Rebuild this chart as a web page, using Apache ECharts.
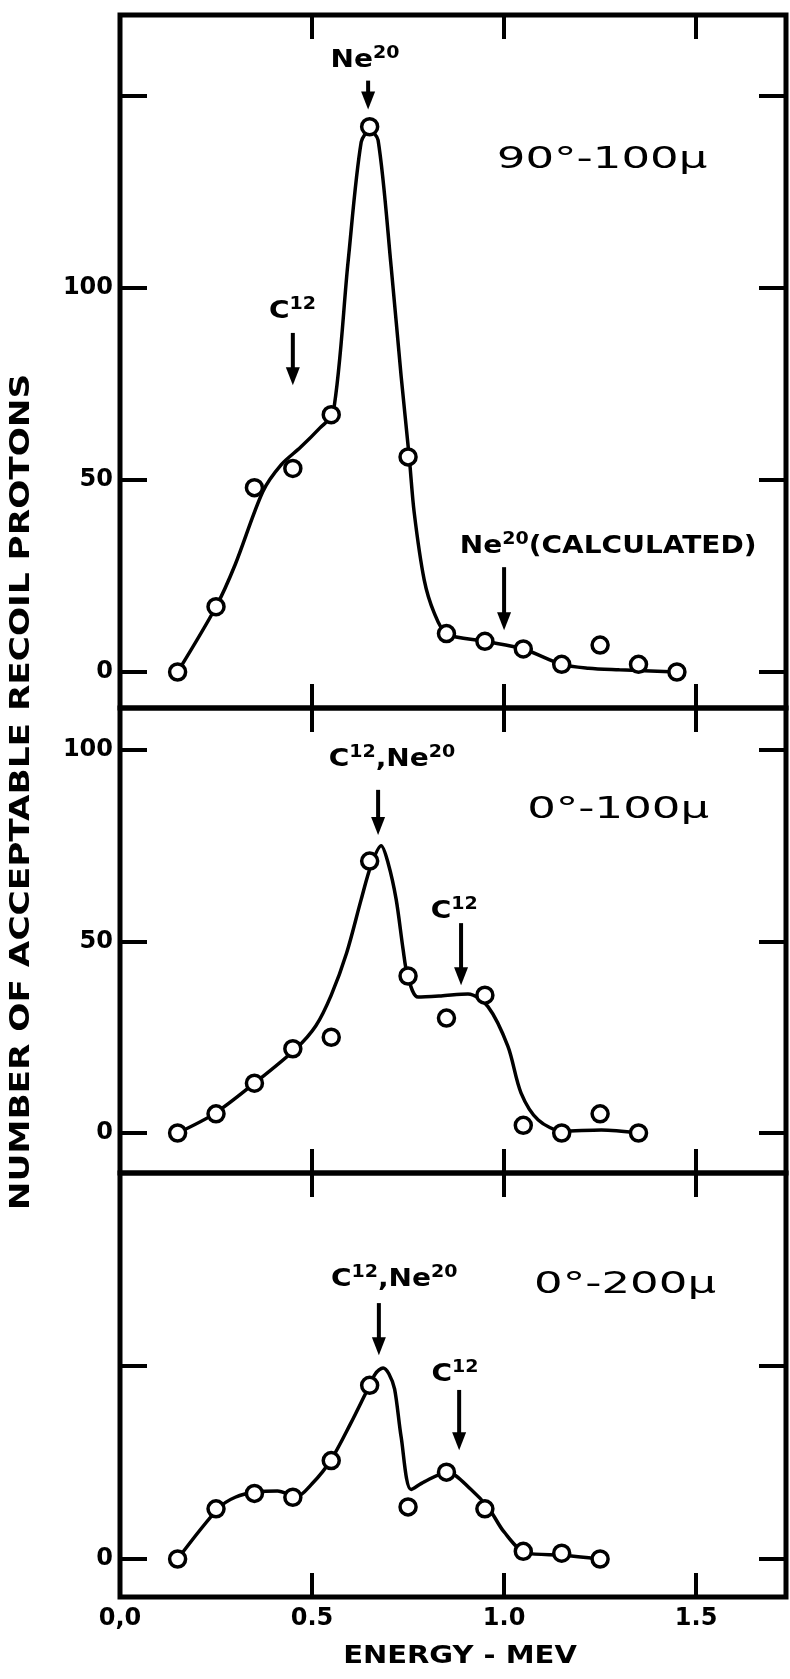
<!DOCTYPE html>
<html><head><meta charset="utf-8">
<script src="https://cdn.jsdelivr.net/npm/echarts@6/dist/echarts.min.js"></script>
<style>html,body{margin:0;padding:0;background:#fff}#c{width:790px;height:1679px}</style>
</head><body><div id="c"></div>
<script>
// ---- data ----
const energy = [0.15,0.25,0.35,0.45,0.55,0.65,0.75,0.85,0.95,1.05,1.15,1.25,1.35,1.45];
const counts90_100 = [0,17,48,53,67,142,56,10,8,6,2,7,2,0];
const counts0_100  = [0,5,13,22,25,71,41,30,36,2,0,5,0];
const counts0_200  = [0,13,17,16,25.5,45,13.5,22.5,13,2,1.5,0];

// hand-drawn fitted curves (vertices)
const curve1E = [0.15,0.25,0.30,0.372,0.42,0.47,0.52,0.555,0.594,0.628,0.65,0.672,0.706,0.732,0.753,0.766,0.792,0.818,0.85,0.95,1.05,1.15,1.22,1.3,1.45];
const curve1V = [0,17,28,47,54,58.5,63.5,67.5,107,138,141,138.5,105.5,77,56,41.5,24,15.4,10,8,6,2,1,0.6,0];
const curve2E = [0.15,0.245,0.35,0.458,0.51,0.55,0.59,0.628,0.654,0.68,0.698,0.719,0.737,0.749,0.776,0.836,0.906,0.958,1.01,1.044,1.089,1.153,1.253,1.352];
const curve2V = [0,5,13,22,28,36,47,61,70,75,70.5,61,48,41,35.5,35.8,36.3,33,22.6,10.5,3.4,0.5,0.8,0];
const curve3E = [0.15,0.255,0.30,0.359,0.41,0.458,0.50,0.549,0.60,0.64,0.665,0.685,0.70,0.715,0.732,0.758,0.792,0.853,0.914,0.961,1.0,1.057,1.153,1.253];
const curve3V = [0,13,16,17.4,17.6,16.1,19.5,25.6,35,43,48,49.5,48,44,31.6,18,20,22.5,18,13,7,1.6,1.0,0];

// tick values / labels
const xTickValues = [0,0.5,1.0,1.5];
const xTickLabels = ['0,0','0.5','1.0','1.5'];
const yTicks1 = [0,50,100,150], yLabels1 = [0,50,100];
const yTicks2 = [0,50,100],     yLabels2 = [0,50,100];
const yTicks3 = [0,50],         yLabels3 = [0];

const panelNames = ['90°-100μ','0°-100μ','0°-200μ'];
const panelNamePos = [[1.255,133.3],[1.297,84.3],[1.315,71]];

// annotations: [panel, energy, value, rich text]
const notes = [
  [0,0.638,159.6,'{b|Ne}{s|20}'],
  [0,0.449,94.3,'{b|C}{s|12}'],
  [0,1.271,33.1,'{b|Ne}{s|20}{b|(CALCULATED)}'],
  [1,0.708,97.9,'{b|C}{s|12}{b|,Ne}{s|20}'],
  [1,0.870,58.2,'{b|C}{s|12}'],
  [2,0.714,72.8,'{b|C}{s|12}{b|,Ne}{s|20}'],
  [2,0.872,48.2,'{b|C}{s|12}']
];
// arrows: [panel, energy, startValue, tipValue]
const arrows = [
  [0,0.646,154,146.5],
  [0,0.45,88.3,74.7],
  [0,1.0,27.3,10.9],
  [1,0.672,89.6,77.8],
  [1,0.888,54.8,38.6],
  [2,0.674,66.3,52.8],
  [2,0.883,43.8,28.2]
];

// ---- layout ----
const FONT = 'DejaVu Sans';
const grids = [
  {top:15, height:693, min:-9.375, max:171.09},
  {top:708, height:465, min:-10.44, max:110.97},
  {top:1173, height:424, min:-9.84, max:100}
];
const pts = [counts90_100, counts0_100, counts0_200];
const curves = [[curve1E,curve1V],[curve2E,curve2V],[curve3E,curve3V]];
const yTicks = [yTicks1,yTicks2,yTicks3];
const yLabels = [yLabels1,yLabels2,yLabels3];
const XMAX = 1.734;

const option = {animation:false, backgroundColor:'#fff', grid:[], xAxis:[], yAxis:[], series:[]};
grids.forEach((g,i)=>{
  option.grid.push({left:120,right:4,top:g.top,height:g.height,show:true,borderColor:'#000',borderWidth:5,backgroundColor:'transparent'});
  ['bottom','top'].forEach(pos=>{
    const showLab = (i===2 && pos==='bottom');
    option.xAxis.push({gridIndex:i,type:'value',min:0,max:XMAX,interval:0.5,position:pos,
      axisLine:{show:false,onZero:false},splitLine:{show:false},
      axisTick:{show:true,inside:true,length:24,lineStyle:{color:'#000',width:4},customValues:[0.5,1.0,1.5]},
      axisLabel:{show:showLab,customValues:xTickValues,margin:10,color:'#000',fontSize:24,fontWeight:'bold',fontFamily:FONT,
        formatter:v=>{const k=xTickValues.findIndex(t=>Math.abs(t-v)<1e-6);return k>=0?xTickLabels[k]:'';}}
    });
  });
  ['left','right'].forEach(pos=>{
    option.yAxis.push({gridIndex:i,type:'value',min:g.min,max:g.max,position:pos,
      axisLine:{show:false,onZero:false},splitLine:{show:false},
      axisTick:{show:true,inside:true,length:27,lineStyle:{color:'#000',width:4},customValues:yTicks[i]},
      axisLabel:{show:pos==='left',customValues:yLabels[i],margin:7,color:'#000',fontSize:24,fontWeight:'bold',fontFamily:FONT}
    });
  });
  const [ce,cv] = curves[i];
  option.series.push({type:'line',xAxisIndex:2*i,yAxisIndex:2*i,data:ce.map((e,k)=>[e,cv[k]]),
    smooth:0.3,showSymbol:false,symbol:'none',lineStyle:{color:'#000',width:3.5},z:2,silent:true});
  option.series.push({type:'scatter',xAxisIndex:2*i,yAxisIndex:2*i,data:pts[i].map((v,k)=>[energy[k],v]),
    symbol:'circle',symbolSize:16,itemStyle:{color:'#fff',borderColor:'#000',borderWidth:3.5,opacity:1},z:3,silent:true});
});

const chart = echarts.init(document.getElementById('c'),null,{renderer:'canvas'});
chart.setOption(option);

// ---- annotations placed via the chart's own scales ----
const toPx = (panel,e,v)=>chart.convertToPixel({seriesIndex:2*panel},[e,v]);
const rich = {
  b:{fontSize:25,fontWeight:'bold',fontFamily:FONT,lineHeight:28,verticalAlign:'bottom',fill:'#000',color:'#000'},
  s:{fontSize:17,fontWeight:'bold',fontFamily:FONT,lineHeight:17,verticalAlign:'top',fill:'#000',color:'#000'}
};
const graphics = [];
graphics.push({type:'text',x:22,y:792,rotation:Math.PI/2,scaleX:1.27,z:10,
  style:{text:'NUMBER OF ACCEPTABLE RECOIL PROTONS',fontSize:27,fontWeight:'bold',fontFamily:FONT,fill:'#000',
    align:'center',verticalAlign:'middle',textAlign:'center',textVerticalAlign:'middle'}});
graphics.push({type:'text',x:460,y:1656,scaleX:1.16,z:10,
  style:{text:'ENERGY - MEV',fontSize:25,fontWeight:'bold',fontFamily:FONT,fill:'#000',
    align:'center',verticalAlign:'middle',textAlign:'center',textVerticalAlign:'middle'}});
panelNames.forEach((t,i)=>{
  const p = toPx(i,panelNamePos[i][0],panelNamePos[i][1]);
  graphics.push({type:'text',x:p[0],y:p[1],scaleX:1.5,z:10,
    style:{text:t,fontSize:30,fontFamily:FONT,fill:'#000',align:'center',verticalAlign:'middle',textAlign:'center',textVerticalAlign:'middle'}});
});
notes.forEach(n=>{
  const p = toPx(n[0],n[1],n[2]);
  graphics.push({type:'text',x:p[0],y:p[1],scaleX:1.12,z:10,
    style:{text:n[3],rich:rich,fill:'#000',align:'center',verticalAlign:'middle',textAlign:'center',textVerticalAlign:'middle'}});
});
arrows.forEach(a=>{
  const p0 = toPx(a[0],a[1],a[2]);
  const p1 = toPx(a[0],a[1],a[3]);
  const head = 18, hw = 7;
  graphics.push({type:'line',z:10,shape:{x1:p0[0],y1:p0[1],x2:p1[0],y2:p1[1]-head+2},style:{stroke:'#000',lineWidth:4}});
  graphics.push({type:'polygon',z:10,shape:{points:[[p1[0]-hw,p1[1]-head],[p1[0]+hw,p1[1]-head],[p1[0],p1[1]]]},style:{fill:'#000'}});
});
chart.setOption({graphic:{elements:graphics}});
</script></body></html>
